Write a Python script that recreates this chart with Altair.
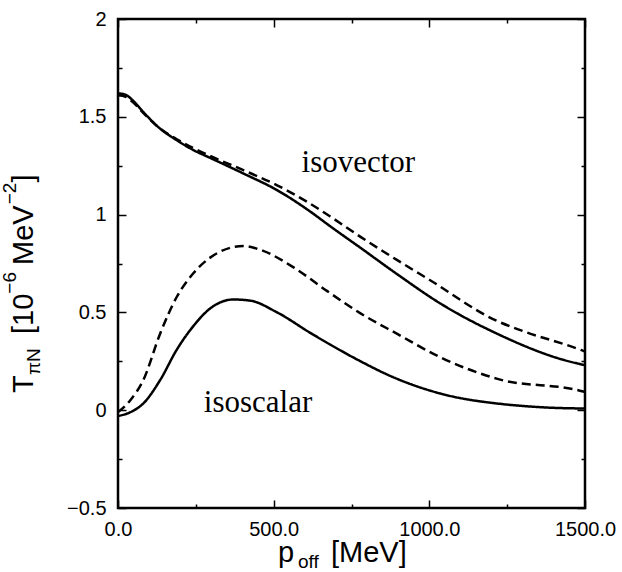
import altair as alt
import pandas as pd

# ---- data ----
iv_solid_p = [0, 25, 50, 81, 135, 189, 242, 296, 403, 511, 618, 682, 779, 897, 1036, 1219, 1434, 1500]
iv_solid_v = [1.62, 1.612, 1.58, 1.525, 1.44, 1.38, 1.33, 1.29, 1.21, 1.125, 1.015, 0.94, 0.83, 0.695, 0.545, 0.39, 0.256, 0.23]

iv_dash_p = [0, 25, 50, 81, 135, 189, 242, 296, 403, 511, 618, 682, 779, 897, 1000, 1219, 1300, 1487, 1500]
iv_dash_v = [1.61, 1.602, 1.572, 1.52, 1.44, 1.385, 1.34, 1.30, 1.227, 1.15, 1.055, 0.99, 0.886, 0.767, 0.667, 0.455, 0.405, 0.308, 0.30]

is_solid_p = [0, 40, 81, 135, 189, 242, 296, 371, 425, 511, 618, 682, 779, 875, 1036, 1219, 1498, 1500]
is_solid_v = [-0.03, -0.01, 0.034, 0.153, 0.31, 0.43, 0.52, 0.566, 0.56, 0.50, 0.395, 0.335, 0.25, 0.175, 0.085, 0.034, 0.009, 0.009]

is_dash_p = [0, 39, 81, 135, 189, 242, 296, 403, 457, 564, 671, 779, 897, 1036, 1219, 1498, 1500]
is_dash_v = [-0.01, 0.05, 0.153, 0.39, 0.58, 0.70, 0.78, 0.84, 0.82, 0.73, 0.61, 0.495, 0.39, 0.27, 0.16, 0.094, 0.093]

x_major = [0, 500, 1000, 1500]
x_minor = [250, 750, 1250]
y_major = [-0.5, 0, 0.5, 1, 1.5, 2]
y_minor = [-0.25, 0.25, 0.75, 1.25, 1.75]

label_text = ["isovector", "isoscalar"]
label_p = [772, 450]
label_v = [1.218, -0.01]

rows = []
for name, ps, vs, style in [
    ("iv_solid", iv_solid_p, iv_solid_v, "solid"),
    ("iv_dash", iv_dash_p, iv_dash_v, "dashed"),
    ("is_solid", is_solid_p, is_solid_v, "solid"),
    ("is_dash", is_dash_p, is_dash_v, "dashed"),
]:
    for p, v in zip(ps, vs):
        rows.append({"p": p, "v": v, "curve": name, "style": style})
df = pd.DataFrame(rows)
df_lab = pd.DataFrame({"text": label_text, "p": label_p, "v": label_v})

W, H = 467, 489
SANS = "Liberation Sans"
SERIF = "Liberation Serif"

xs = alt.Scale(domain=[0, 1500], nice=False, zero=False)
ys = alt.Scale(domain=[-0.5, 2], nice=False, zero=False)

label_axis_common = dict(ticks=False, domain=False, grid=False, title=None,
                         labelFont=SANS, labelFontSize=20, labelColor="black",
                         labelOverlap=False, labelFlush=False)

lines = alt.Chart(df).mark_line(color="black", strokeWidth=2.5, interpolate="monotone").encode(
    x=alt.X("p:Q", scale=xs, axis=alt.Axis(orient="bottom", values=x_major, format=".1f",
                                             labelPadding=11, **label_axis_common)),
    y=alt.Y("v:Q", scale=ys, axis=alt.Axis(orient="left", values=y_major, format="~g",
                                             labelPadding=12, **label_axis_common)),
    detail="curve:N",
    strokeDash=alt.StrokeDash("style:N", scale=alt.Scale(domain=["solid", "dashed"],
                                                          range=[[1, 0], [9, 5]]), legend=None),
)

tick_common = dict(labels=False, domain=False, grid=False, title=None,
                   tickColor="black", tickWidth=1.5)


def tick_layer(x_orient, y_orient, xv, yv, size):
    return alt.Chart(df).mark_line(opacity=0).encode(
        x=alt.X("p:Q", scale=xs, axis=alt.Axis(orient=x_orient, offset=-H, values=xv,
                                                 tickSize=size, **tick_common)),
        y=alt.Y("v:Q", scale=ys, axis=alt.Axis(orient=y_orient, offset=-W, values=yv,
                                                 tickSize=size, **tick_common)),
        detail="curve:N",
    )


ticks = [
    tick_layer("top", "right", x_major, y_major, 8),
    tick_layer("bottom", "left", x_major, y_major, 8),
    tick_layer("top", "right", x_minor, y_minor, 4),
    tick_layer("bottom", "left", x_minor, y_minor, 4),
]

labels = alt.Chart(df_lab).mark_text(font=SERIF, fontSize=31, color="black",
                                     align="center", baseline="alphabetic").encode(
    x=alt.X("p:Q", scale=xs, axis=None), y=alt.Y("v:Q", scale=ys, axis=None), text="text:N")


def piece(txt, x, y, size, angle=0):
    return alt.Chart(alt.Data(values=[{}])).mark_text(
        text=txt, font=SANS, fontSize=size, color="black", align="left",
        baseline="alphabetic", angle=angle).encode(x=alt.value(x), y=alt.value(y))


MAIN, SUB = 29, 19
# x-axis title: p_off [MeV]
title_parts = [
    piece("p", 160, 543, MAIN),
    piece("off", 180, 549, SUB),
    piece("[MeV]", 213, 543, MAIN),
]
# y-axis title: T_πN [10^-6 MeV^-2]  (rotated, reading upward)
title_parts += [
    piece("T", -85, 374, MAIN, 270),
    piece("πN", -78, 356, SUB, 270),
    piece("[10", -85, 315, MAIN, 270),
    piece("\u22126", -102, 274.7, SUB, 270),
    piece("MeV", -85, 246, MAIN, 270),
    piece("\u22122", -102, 185.3, SUB, 270),
    piece("]", -85, 163.6, MAIN, 270),
]

chart = alt.layer(lines, *ticks, labels, *title_parts).resolve_axis(
    x="independent", y="independent"
).properties(
    width=W, height=H,
    autosize=alt.AutoSizeParams(type="none"),
    padding={"left": 118, "top": 19, "right": 37, "bottom": 64},
    background="white",
).configure_view(stroke="black", strokeWidth=2.5)

chart.save("out.html", embed_options={"renderer": "svg", "actions": False})
